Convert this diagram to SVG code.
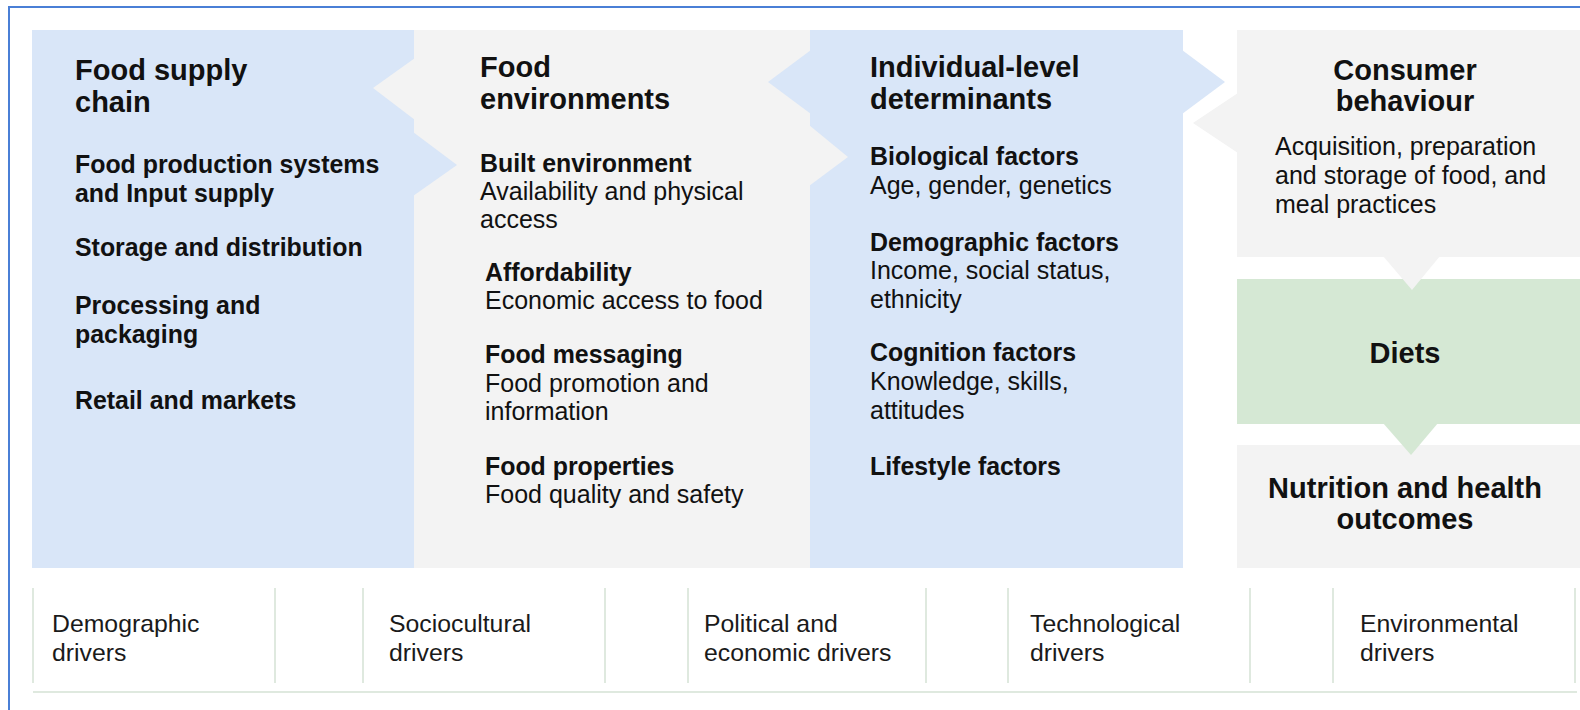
<svg xmlns="http://www.w3.org/2000/svg" width="1580" height="710" viewBox="0 0 1580 710">
  <style>
    .blue { fill: #d9e6f8; }
    .grey { fill: #f3f3f3; }
    .green { fill: #d5e8d4; }
    text { font-family: "Liberation Sans", Arial, sans-serif; fill: #111; }
    .head { font-size: 29px; font-weight: bold; }
    .item { font-size: 24.9px; font-weight: bold; }
    .desc { font-size: 25px; }
    .drv { font-size: 24.8px; fill: #1a1a1a; }
    .mid { text-anchor: middle; }
    .rule { stroke: #dfe9df; stroke-width: 2; fill: none; }
  </style>

  <rect x="0" y="0" width="1580" height="710" fill="#ffffff"/>
  <!-- frame -->
  <rect x="9" y="7" width="1590" height="720" fill="none" stroke="#4a7fd6" stroke-width="2"/>

  <!-- column panels -->
  <g id="food-supply-chain">
    <rect class="blue" x="32" y="30" width="383" height="538"/>
  </g>
  <g id="food-environments">
    <rect class="grey" x="414" y="30" width="397" height="538"/>
  </g>
  <g id="individual-determinants">
    <rect class="blue" x="810" y="30" width="373" height="538"/>
  </g>
  <g id="consumer-behaviour">
    <rect class="grey" x="1237" y="30" width="343" height="227"/>
  </g>
  <g id="diets">
    <rect class="green" x="1237" y="279" width="343" height="145"/>
  </g>
  <g id="nutrition-health">
    <rect class="grey" x="1237" y="445" width="343" height="123"/>
  </g>

  <!-- arrow connectors between panels -->
  <g id="connectors">
    <polygon class="grey" points="415,58 373,88 415,120"/>
    <polygon class="blue" points="413,132 457,165 413,196"/>
    <polygon class="blue" points="811,50 768,82 811,114"/>
    <polygon class="grey" points="809,125 848,157 809,186"/>
    <polygon class="blue" points="1182,50 1225,82 1182,114"/>
    <polygon class="grey" points="1238,93 1193,123 1238,153"/>
    <polygon class="grey" points="1383,256 1440,256 1412,290"/>
    <polygon class="green" points="1383,423 1438,423 1411,455"/>
  </g>

  <!-- column texts -->
  <g id="food-supply-chain-text">
    <text class="head" x="75" y="80">Food supply</text>
    <text class="head" x="75" y="112">chain</text>
    <text class="item" x="75" y="173">Food production systems</text>
    <text class="item" x="75" y="202">and Input supply</text>
    <text class="item" x="75" y="256">Storage and distribution</text>
    <text class="item" x="75" y="314">Processing and</text>
    <text class="item" x="75" y="343">packaging</text>
    <text class="item" x="75" y="409">Retail and markets</text>
  </g>

  <g id="food-environments-text">
    <text class="head" x="480" y="77">Food</text>
    <text class="head" x="480" y="109">environments</text>
    <text class="item" x="480" y="172">Built environment</text>
    <text class="desc" x="480" y="200">Availability and physical</text>
    <text class="desc" x="480" y="228">access</text>
    <text class="item" x="485" y="281">Affordability</text>
    <text class="desc" x="485" y="309">Economic access to food</text>
    <text class="item" x="485" y="363">Food messaging</text>
    <text class="desc" x="485" y="392">Food promotion and</text>
    <text class="desc" x="485" y="420">information</text>
    <text class="item" x="485" y="475">Food properties</text>
    <text class="desc" x="485" y="503">Food quality and safety</text>
  </g>

  <g id="individual-determinants-text">
    <text class="head" x="870" y="77">Individual-level</text>
    <text class="head" x="870" y="109">determinants</text>
    <text class="item" x="870" y="165">Biological factors</text>
    <text class="desc" x="870" y="194">Age, gender, genetics</text>
    <text class="item" x="870" y="251">Demographic factors</text>
    <text class="desc" x="870" y="279">Income, social status,</text>
    <text class="desc" x="870" y="308">ethnicity</text>
    <text class="item" x="870" y="361">Cognition factors</text>
    <text class="desc" x="870" y="390">Knowledge, skills,</text>
    <text class="desc" x="870" y="419">attitudes</text>
    <text class="item" x="870" y="475">Lifestyle factors</text>
  </g>

  <g id="consumer-behaviour-text">
    <text class="head mid" x="1405" y="80">Consumer</text>
    <text class="head mid" x="1405" y="111">behaviour</text>
    <text class="desc" x="1275" y="155">Acquisition, preparation</text>
    <text class="desc" x="1275" y="184">and storage of food, and</text>
    <text class="desc" x="1275" y="213">meal practices</text>
  </g>

  <g id="diets-text">
    <text class="head mid" x="1405" y="363">Diets</text>
  </g>

  <g id="nutrition-health-text">
    <text class="head mid" x="1405" y="498">Nutrition and health</text>
    <text class="head mid" x="1405" y="529">outcomes</text>
  </g>

  <!-- driver strip -->
  <g id="drivers">
    <line class="rule" x1="33" y1="692" x2="1577" y2="692"/>
    <g id="demographic-drivers">
      <line class="rule" x1="33" y1="588" x2="33" y2="683"/>
      <line class="rule" x1="275" y1="588" x2="275" y2="683"/>
      <text class="drv" x="52" y="632">Demographic</text>
      <text class="drv" x="52" y="661">drivers</text>
    </g>
    <g id="sociocultural-drivers">
      <line class="rule" x1="363" y1="588" x2="363" y2="683"/>
      <line class="rule" x1="605" y1="588" x2="605" y2="683"/>
      <text class="drv" x="389" y="632">Sociocultural</text>
      <text class="drv" x="389" y="661">drivers</text>
    </g>
    <g id="political-economic-drivers">
      <line class="rule" x1="688" y1="588" x2="688" y2="683"/>
      <line class="rule" x1="926" y1="588" x2="926" y2="683"/>
      <text class="drv" x="704" y="632">Political and</text>
      <text class="drv" x="704" y="661">economic drivers</text>
    </g>
    <g id="technological-drivers">
      <line class="rule" x1="1008" y1="588" x2="1008" y2="683"/>
      <line class="rule" x1="1250" y1="588" x2="1250" y2="683"/>
      <text class="drv" x="1030" y="632">Technological</text>
      <text class="drv" x="1030" y="661">drivers</text>
    </g>
    <g id="environmental-drivers">
      <line class="rule" x1="1333" y1="588" x2="1333" y2="683"/>
      <line class="rule" x1="1575" y1="588" x2="1575" y2="683"/>
      <text class="drv" x="1360" y="632">Environmental</text>
      <text class="drv" x="1360" y="661">drivers</text>
    </g>
  </g>
</svg>
